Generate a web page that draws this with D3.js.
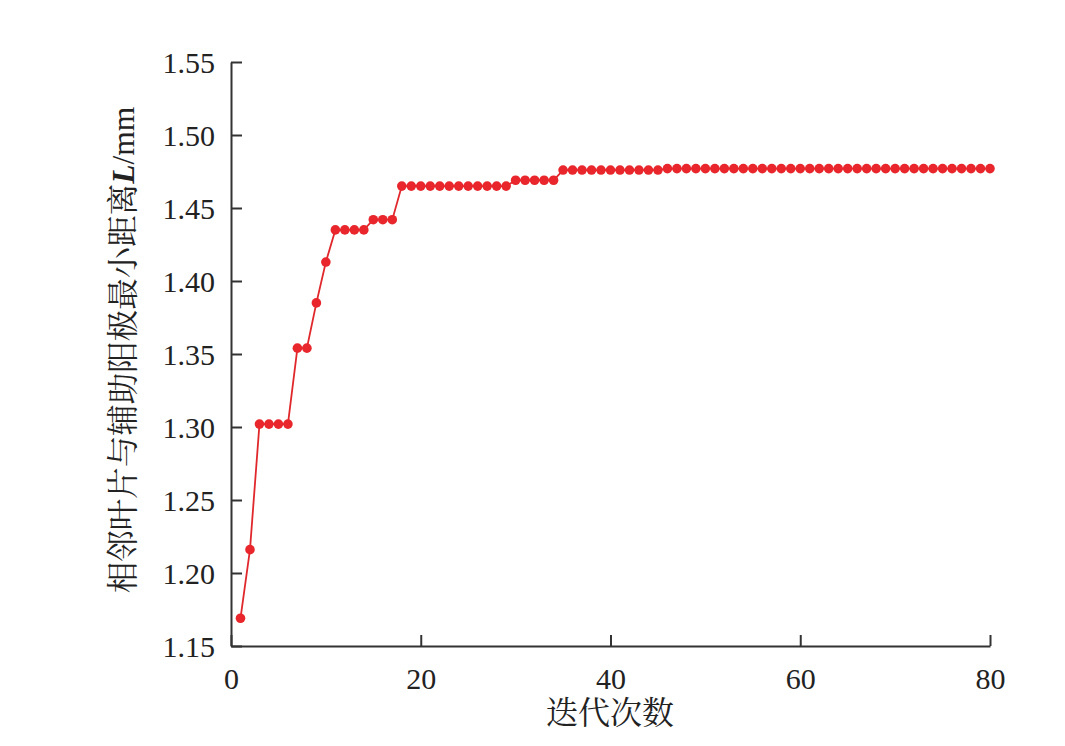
<!DOCTYPE html>
<html><head><meta charset="utf-8">
<script src="https://cdn.jsdelivr.net/npm/d3@7"></script>
<style>body{margin:0;background:#fff}</style>
</head><body>
<svg id="c" width="1065" height="746"></svg>
<script>
const iterations = d3.range(1, 81);
const distances = [
 1.169, 1.216, 1.302, 1.302, 1.302, 1.302, 1.354, 1.354, 1.385, 1.413,
 1.435, 1.435, 1.435, 1.435, 1.442, 1.442, 1.442, 1.465, 1.465, 1.465,
 1.465, 1.465, 1.465, 1.465, 1.465, 1.465, 1.465, 1.465, 1.465, 1.469,
 1.469, 1.469, 1.469, 1.469, 1.476, 1.476, 1.476, 1.476, 1.476, 1.476,
 1.476, 1.476, 1.476, 1.476, 1.476, 1.477, 1.477, 1.477, 1.477, 1.477,
 1.477, 1.477, 1.477, 1.477, 1.477, 1.477, 1.477, 1.477, 1.477, 1.477,
 1.477, 1.477, 1.477, 1.477, 1.477, 1.477, 1.477, 1.477, 1.477, 1.477,
 1.477, 1.477, 1.477, 1.477, 1.477, 1.477, 1.477, 1.477, 1.477, 1.477
];
const xTicks = [0, 20, 40, 60, 80];
const yTicks = [1.15, 1.20, 1.25, 1.30, 1.35, 1.40, 1.45, 1.50, 1.55];
const xTitle = "迭代次数";
const yTitleMain = "相邻叶片与辅助阳极最小距离";

const svg = d3.select("#c");
const x = d3.scaleLinear().domain([0, 80]).range([231, 990]);
const y = d3.scaleLinear().domain([1.15, 1.55]).range([646, 62]);
const font = "'Liberation Serif','Noto Serif CJK SC','Noto Sans CJK SC',serif";
const axisCol = "#333";

const xa = svg.append("g").attr("transform", "translate(0,646)")
  .call(d3.axisBottom(x).tickValues(xTicks).tickSize(-11).tickPadding(22).tickSizeOuter(0));
const ya = svg.append("g").attr("transform", "translate(231,0)")
  .call(d3.axisLeft(y).tickValues(yTicks).tickFormat(d3.format(".2f")).tickSize(-11).tickPadding(16).tickSizeOuter(0));
[xa, ya].forEach(a => {
  a.select(".domain").attr("stroke", axisCol).attr("stroke-width", 2);
  a.selectAll(".tick line").attr("stroke", axisCol).attr("stroke-width", 2);
  a.selectAll(".tick text").attr("font-family", font).attr("font-size", 30).attr("fill", "#222");
});
ya.selectAll(".tick text").attr("dy", "0.35em");
xa.selectAll(".tick text").attr("dy", "0.7em");

const line = d3.line().x((d, i) => x(iterations[i])).y(d => y(d));
svg.append("path").datum(distances).attr("d", line)
  .attr("fill", "none").attr("stroke", "#e0282c").attr("stroke-width", 1.8);
svg.append("g").selectAll("circle").data(distances).join("circle")
  .attr("cx", (d, i) => x(iterations[i])).attr("cy", d => y(d)).attr("r", 4.8)
  .attr("fill", "#e8262b");

svg.append("text").attr("x", 610).attr("y", 724).attr("text-anchor", "middle")
  .attr("font-family", font).attr("font-size", 32).attr("fill", "#222").text(xTitle);

const yt = svg.append("text").attr("transform", "translate(134,350) rotate(-90)")
  .attr("text-anchor", "middle").attr("font-family", font).attr("font-size", 31.5).attr("fill", "#222");
yt.append("tspan").text(yTitleMain);
yt.append("tspan").attr("font-style", "italic").attr("font-weight", "bold").text("L");
yt.append("tspan").text("/mm");
</script>
</body></html>
